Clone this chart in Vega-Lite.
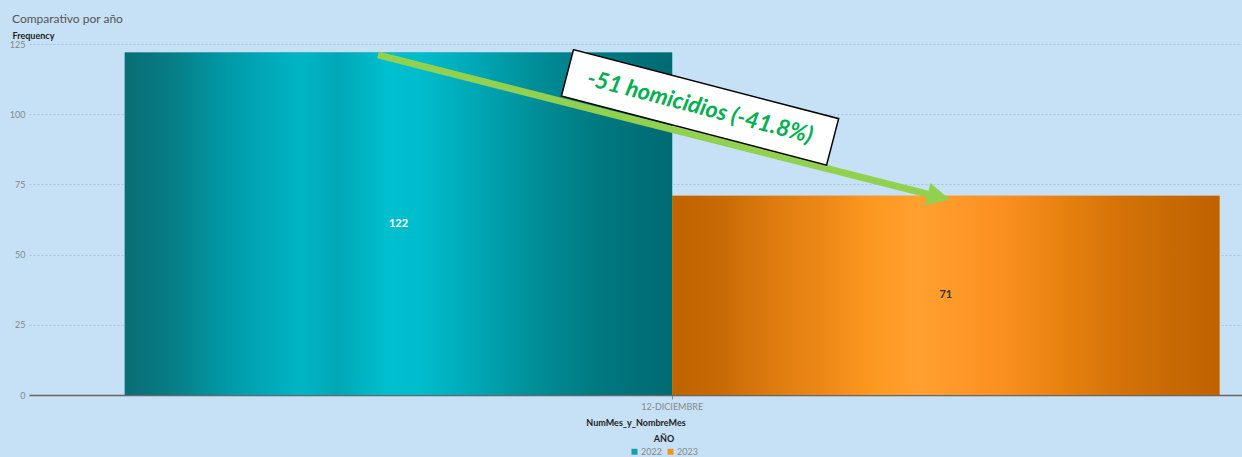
{
  "$schema": "https://vega.github.io/schema/vega-lite/v6.json",
  "autosize": {"type": "none"},
  "width": 1213,
  "height": 351,
  "padding": {"left": 29, "top": 44, "right": 0, "bottom": 62},
  "background": "#c6e1f6",
  "title": {
    "text": "Comparativo por año",
    "anchor": "start",
    "frame": "group",
    "dx": -17,
    "offset": 5,
    "font": "Lato",
    "fontSize": 12,
    "fontWeight": "normal",
    "color": "#555555"
  },
  "config": {
    "view": {"stroke": null},
    "font": "Lato"
  },
  "layer": [
    {
      "data": {
        "values": [
          {"mes": "12-DICIEMBRE", "year": "2022", "n": 122},
          {"mes": "12-DICIEMBRE", "year": "2023", "n": 71}
        ]
      },
      "encoding": {
        "x": {
          "field": "mes",
          "type": "nominal",
          "scale": {"paddingInner": 0, "paddingOuter": 0.054, "align": 0.81},
          "axis": {
            "title": "NumMes_y_NombreMes",
            "labelAngle": 0,
            "labelColor": "#888888",
            "labelFontSize": 9,
            "labelPadding": 3,
            "tickColor": "#888888",
            "tickSize": 4,
            "domainColor": "#666666",
            "domainWidth": 1.5,
            "titleFontSize": 9,
            "titleFontWeight": "bold",
            "titleColor": "#222222",
            "titlePadding": 7
          }
        },
        "xOffset": {"field": "year", "type": "nominal", "scale": {"paddingInner": 0, "paddingOuter": 0}},
        "y": {
          "field": "n",
          "type": "quantitative",
          "scale": {"domain": [0, 125], "nice": false},
          "axis": {
            "title": "Frequency",
            "titleAngle": 0,
            "titleAlign": "left",
            "titleBaseline": "alphabetic",
            "titleX": -17,
            "titleY": -6,
            "titleFontSize": 9,
            "titleFontWeight": "bold",
            "titleColor": "#222222",
            "values": [0, 25, 50, 75, 100, 125],
            "labelColor": "#888888",
            "labelFontSize": 9,
            "labelPadding": 4,
            "ticks": false,
            "domain": false,
            "gridColor": "#a8c4dc",
            "gridDash": [2, 2],
            "gridWidth": 1
          }
        }
      },
      "layer": [
        {
          "mark": {"type": "bar"},
          "encoding": {
            "color": {
              "field": "year",
              "type": "nominal",
              "scale": {"domain": ["2022", "2023"], "range": ["#12a0aa", "#f5941d"]},
              "legend": {
                "title": "AÑO",
                "orient": "none",
                "legendX": 601,
                "legendY": 391,
                "direction": "horizontal",
                "titleFontSize": 9,
                "titleFontWeight": "bold",
                "titleColor": "#222222",
                "titleAnchor": "middle",
                "titleAlign": "center",
                "titlePadding": 3,
                "labelFontSize": 9,
                "labelColor": "#888888",
                "symbolType": "square",
                "symbolSize": 36,
                "symbolStrokeWidth": 0,
                "labelOffset": 2,
                "columnPadding": 4
              }
            }
          }
        },
        {
          "transform": [{"filter": "datum.year == '2022'"}],
          "mark": {
            "type": "bar",
            "fill": {
              "gradient": "linear",
              "x1": 0, "x2": 1, "y1": 0, "y2": 0,
              "stops": [
                {"offset": 0, "color": "#0a6e76"},
                {"offset": 0.08, "color": "#077c85"},
                {"offset": 0.19, "color": "#009aa8"},
                {"offset": 0.32, "color": "#00b5c5"},
                {"offset": 0.39, "color": "#00a8b7"},
                {"offset": 0.48, "color": "#00bfce"},
                {"offset": 0.54, "color": "#00bccc"},
                {"offset": 0.65, "color": "#00a5b3"},
                {"offset": 0.76, "color": "#008c96"},
                {"offset": 0.87, "color": "#007880"},
                {"offset": 1, "color": "#006a72"}
              ]
            }
          }
        },
        {
          "transform": [{"filter": "datum.year == '2023'"}],
          "mark": {
            "type": "bar",
            "fill": {
              "gradient": "linear",
              "x1": 0, "x2": 1, "y1": 0, "y2": 0,
              "stops": [
                {"offset": 0, "color": "#c06400"},
                {"offset": 0.09, "color": "#c86a05"},
                {"offset": 0.2, "color": "#e07e10"},
                {"offset": 0.29, "color": "#f08a18"},
                {"offset": 0.36, "color": "#fc981f"},
                {"offset": 0.45, "color": "#ffa030"},
                {"offset": 0.51, "color": "#ff9a2a"},
                {"offset": 0.6, "color": "#fa9020"},
                {"offset": 0.71, "color": "#e8820f"},
                {"offset": 0.82, "color": "#d47208"},
                {"offset": 0.91, "color": "#c86a04"},
                {"offset": 1, "color": "#c06200"}
              ]
            }
          }
        },
        {
          "transform": [{"calculate": "datum.n / 2", "as": "mid"}],
          "mark": {"type": "text", "fontSize": 11, "fontWeight": "bold", "baseline": "middle"},
          "encoding": {
            "y": {"field": "mid", "type": "quantitative"},
            "text": {"field": "n", "type": "quantitative"},
            "color": {"condition": {"test": "datum.year == '2022'", "value": "#ffffff"}, "value": "#333333"}
          }
        }
      ]
    },
    {
      "data": {
        "values": [
          {"part": "shaft", "x": 28.77, "y": 121.1, "x2": 74.1, "y2": 71.5},
          {"part": "head", "x": 75.0, "y": 70.6},
          {"part": "box", "x": 55.32, "y": 102.45, "label": "-51 homicidios (-41.8%)"}
        ]
      },
      "encoding": {
        "x": {"field": "x", "type": "quantitative", "scale": {"domain": [0, 100], "nice": false}, "axis": null},
        "y": {"field": "y", "type": "quantitative", "scale": {"domain": [0, 125], "nice": false}, "axis": null}
      },
      "layer": [
        {
          "transform": [{"filter": "datum.part == 'shaft'"}],
          "mark": {"type": "rule", "color": "#92d050", "strokeWidth": 7, "strokeCap": "butt"},
          "encoding": {
            "x2": {"field": "x2"},
            "y2": {"field": "y2"}
          }
        },
        {
          "transform": [{"filter": "datum.part == 'head'"}],
          "mark": {
            "type": "point",
            "shape": "M-1,-1L1,0L-1,1Z",
            "size": 520,
            "angle": 13.5,
            "filled": true,
            "opacity": 1,
            "color": "#92d050",
            "strokeWidth": 0
          }
        },
        {
          "transform": [{"filter": "datum.part == 'box'"}],
          "mark": {
            "type": "point",
            "shape": "M-1,-0.175L1,-0.175L1,0.175L-1,0.175Z",
            "size": 75076,
            "angle": 14.6,
            "filled": true,
            "fill": "#ffffff",
            "stroke": "#000000",
            "strokeWidth": 1.5,
            "opacity": 1
          }
        },
        {
          "transform": [{"filter": "datum.part == 'box'"}],
          "mark": {
            "type": "text",
            "angle": 14.6,
            "align": "center",
            "baseline": "middle",
            "font": "Lato",
            "fontSize": 23,
            "fontWeight": "bold",
            "fontStyle": "italic",
            "color": "#00b050"
          },
          "encoding": {"text": {"field": "label"}}
        }
      ]
    }
  ],
  "resolve": {"scale": {"x": "independent", "y": "independent"}, "axis": {"x": "independent", "y": "independent"}}
}
